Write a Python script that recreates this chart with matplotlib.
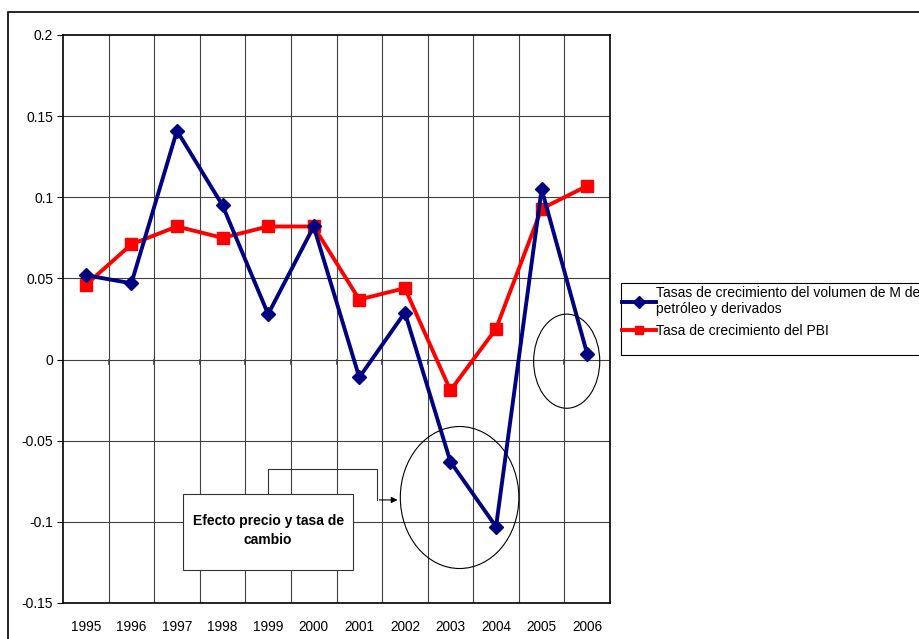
import numpy as np
import matplotlib.pyplot as plt
from matplotlib.patches import Ellipse, Rectangle

plt.rcParams['font.family'] = ['Liberation Sans', 'DejaVu Sans']

# datos
years = [1995, 1996, 1997, 1998, 1999, 2000, 2001, 2002, 2003, 2004, 2005, 2006]
imports_growth = [0.052, 0.047, 0.141, 0.095, 0.028, 0.082, -0.011, 0.029, -0.063, -0.103, 0.105, 0.0035]
gdp_growth = [0.046, 0.071, 0.082, 0.075, 0.082, 0.082, 0.037, 0.044, -0.019, 0.019, 0.093, 0.107]
yticks = [-0.15, -0.1, -0.05, 0, 0.05, 0.1, 0.15, 0.2]
ytick_labels = ['-0.15', '-0.1', '-0.05', '0', '0.05', '0.1', '0.15', '0.2']
label_imports = 'Tasas de crecimiento del volumen de M de\npetróleo y derivados'
label_gdp = 'Tasa de crecimiento del PBI'
note = 'Efecto precio y tasa de\ncambio'

fig = plt.figure(figsize=(9.2, 6.39), dpi=100)
ax = fig.add_axes([63/920, 36/639, 547/920, 568/639])

# borde exterior del area del grafico
fig.patches.append(Rectangle((8/920, -0.1), 1.2, 1.1 - 12/639, transform=fig.transFigure,
                             fill=False, edgecolor='black', linewidth=1.2))

x = np.array(years)
ax.plot(x, imports_growth, color='#000080', lw=2.8, marker='D', markersize=7.5,
        label=label_imports, zorder=5)
ax.plot(x, gdp_growth, color='#FF0000', lw=2.8, marker='s', markersize=9,
        label=label_gdp, zorder=4)

ax.set_xlim(years[0] - 0.5, years[-1] + 0.5)
ax.set_ylim(-0.15, 0.2)
ax.set_yticks(yticks)
ax.set_yticklabels(ytick_labels)
ax.set_xticks(x)
ax.set_xticklabels([str(y) for y in years])
ax.tick_params(axis='x', length=0, pad=12, labelsize=9.8)
ax.tick_params(axis='y', length=4, width=0.8, labelsize=10, pad=3)

# cuadricula
for b in np.arange(years[0] + 0.5, years[-1], 1.0):
    ax.axvline(b, color='#404040', lw=0.8, zorder=1)
for v in yticks[1:-1]:
    ax.axhline(v, color='#404040', lw=0.8, zorder=1)
for b in np.arange(years[0] + 0.5, years[-1], 1.0):
    ax.plot([b, b], [0, -0.0025], color='#404040', lw=1.2, zorder=1)
for s in ax.spines.values():
    s.set_linewidth(1.2)

# elipses
ax.add_patch(Ellipse((2003.2, -0.085), 2.6, 0.0875, fill=False, edgecolor='black', lw=0.8, zorder=6))
ax.add_patch(Ellipse((2005.55, -0.001), 1.45, 0.058, fill=False, edgecolor='black', lw=0.8, zorder=6))

# cuadro de texto y conector
ax.add_patch(Rectangle((1997.13, -0.1297), 3.73, 0.0469, facecolor='white',
                       edgecolor='#333333', lw=0.8, zorder=3))
ax.text(1999.0, -0.1055, note, ha='center', va='center', fontsize=10,
        fontweight='bold', linespacing=1.45, zorder=7)
ax.plot([1999.0, 1999.0, 2001.38, 2001.38], [-0.0828, -0.0674, -0.0674, -0.0865],
        color='#333333', lw=0.8, zorder=6)
ax.annotate('', xy=(2001.9, -0.0865), xytext=(2001.38, -0.0865),
            arrowprops=dict(arrowstyle='-|>', color='black', lw=0.8, mutation_scale=9),
            zorder=6)

# leyenda (marco dibujado aparte)
fig.patches.append(Rectangle((621/920, 1 - 355/639), 0.5, 72/639, transform=fig.transFigure,
                             fill=False, edgecolor='black', linewidth=0.8))
leg = fig.legend(loc='upper left', bbox_to_anchor=(621/920, 1 - 285/639),
                 fontsize=10, frameon=False,
                 handlelength=2.4, handletextpad=0.05, borderpad=0.1,
                 labelspacing=0.55, borderaxespad=0)
for h in leg.legend_handles:
    h.set_markersize(6)
    h.set_linewidth(2.8)
for t in leg.get_texts():
    t.set_linespacing(1.15)

fig.savefig('out.png', dpi=100)
